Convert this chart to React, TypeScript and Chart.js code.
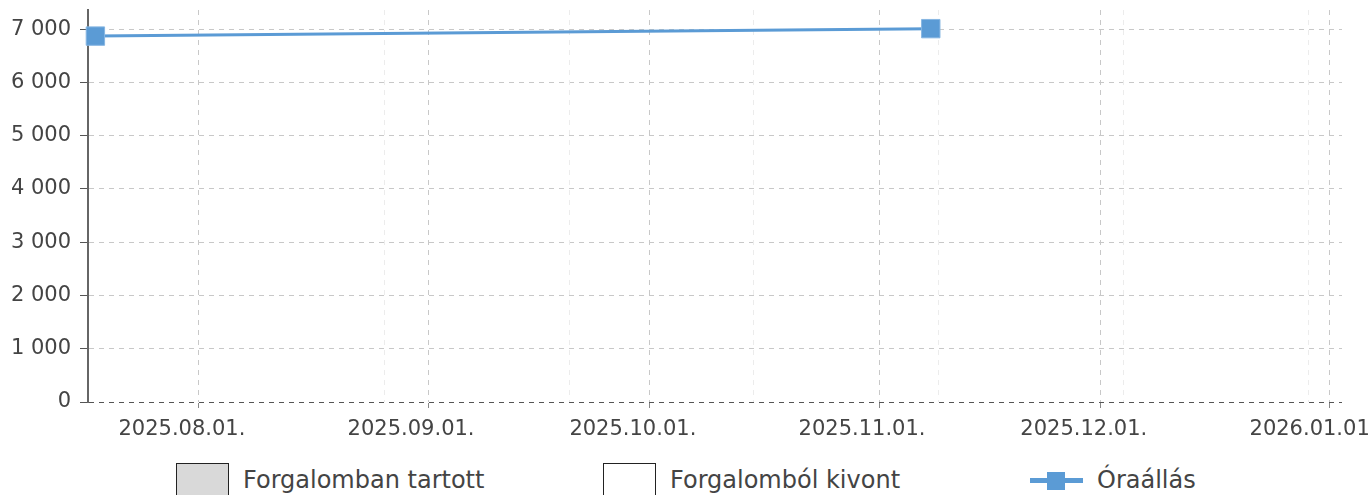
import React, { useEffect, useRef } from "react";
import Chart from "chart.js/auto";

// ---- data ----
const pointDates: string[] = ["2025-07-18", "2025-11-08"];
const meterValues: number[] = [6870, 7010];
const majorTickDates: string[] = ["2025-08-01", "2025-09-01", "2025-10-01", "2025-11-01", "2025-12-01", "2026-01-01"];
const minorTickDates: string[] = ["2025-08-26", "2025-09-20", "2025-10-15", "2025-11-09", "2025-12-04", "2025-12-29"];
const xMinDate = "2025-07-17T00:00:00Z";
const xMaxDate = "2026-01-02T15:00:00Z";
const yMax = 7360;
const legendLabels: string[] = ["Forgalomban tartott", "Forgalomból kivont", "Óraállás"];

const LINE_COLOR = "#5b9bd5";
const TEXT_COLOR = "#444444";
const FONT = "'DejaVu Sans', sans-serif";

const ts = (d: string) => new Date(d.length <= 10 ? d + "T00:00:00Z" : d).getTime();
const pad2 = (n: number) => (n < 10 ? "0" + n : "" + n);
const fmtDate = (v: number) => {
  const d = new Date(v);
  return `${d.getUTCFullYear()}.${pad2(d.getUTCMonth() + 1)}.${pad2(d.getUTCDate())}.`;
};
const fmtNum = (v: number) => String(Math.round(v)).replace(/\B(?=(\d{3})+(?!\d))/g, " ");

const bgPlugin = {
  id: "bgFill",
  beforeDraw(chart: any) {
    const { ctx, width, height } = chart;
    ctx.save();
    ctx.fillStyle = "#ffffff";
    ctx.fillRect(0, 0, width, height);
    ctx.restore();
  },
  afterDraw(chart: any) {
    const { ctx, width, chartArea } = chart;
    ctx.save();
    ctx.fillStyle = "#ffffff";
    ctx.fillRect(0, 0, width, Math.max(0, chartArea.top - 4));
    ctx.restore();
  },
};

const minorGridPlugin = {
  id: "minorGrid",
  beforeDatasetsDraw(chart: any) {
    const { ctx, chartArea, scales } = chart;
    const x = scales.x;
    ctx.save();
    ctx.strokeStyle = "#ececec";
    ctx.lineWidth = 1;
    ctx.setLineDash([5, 5]);
    for (const d of minorTickDates) {
      const px = Math.round(x.getPixelForValue(ts(d))) + 0.5;
      ctx.beginPath();
      ctx.moveTo(px, chartArea.top);
      ctx.lineTo(px, chartArea.bottom);
      ctx.stroke();
    }
    ctx.restore();
  },
};

export default function App() {
  const ref = useRef<HTMLCanvasElement | null>(null);

  useEffect(() => {
    if (!ref.current) return;
    const xmin = ts(xMinDate);
    const xmax = ts(xMaxDate);
    const chart = new Chart(ref.current, {
      type: "line",
      data: {
        datasets: [
          {
            label: legendLabels[2],
            data: pointDates.map((d, i) => ({ x: ts(d), y: meterValues[i] })),
            borderColor: LINE_COLOR,
            backgroundColor: LINE_COLOR,
            borderWidth: 3,
            pointStyle: "rect",
            pointRadius: 13,
            pointBackgroundColor: LINE_COLOR,
            pointBorderColor: "#86b6e2",
            pointBorderWidth: 1,
            tension: 0,
            clip: false as any,
          },
        ],
      },
      plugins: [bgPlugin, minorGridPlugin],
      options: {
        animation: false,
        responsive: false,
        layout: { autoPadding: false, padding: { top: 10, right: 28, left: 0, bottom: 0 } },
        plugins: { legend: { display: false }, tooltip: { enabled: false } },
        scales: {
          x: {
            type: "linear",
            position: "bottom",
            min: xmin,
            max: xmax,
            afterBuildTicks: (s: any) => {
              s.ticks = majorTickDates.map((d) => ({ value: ts(d) }));
            },
            afterFit: (s: any) => {
              s.height = 38;
              s.paddingLeft = 0;
              s.paddingRight = 0;
            },
            ticks: {
              autoSkip: false,
              maxRotation: 0,
              padding: 9,
              labelOffset: -17,
              color: TEXT_COLOR,
              font: { family: FONT, size: 21 },
              callback: (v: any) => fmtDate(Number(v)),
            },
            grid: {
              color: "#c8c8c8",
              lineWidth: 1,
              tickLength: 6,
              tickColor: "#888888",
              tickBorderDash: [],
            },
            border: { display: true, color: "#aaaaaa", width: 1, dash: [5, 5], z: -2 },
          },
          y: {
            type: "linear",
            min: 0,
            max: yMax,
            afterBuildTicks: (s: any) => {
              const t = [];
              for (let v = 0; v <= yMax; v += 1000) t.push({ value: v });
              s.ticks = t;
            },
            afterFit: (s: any) => {
              s.width = 88;
              s.paddingTop = 0;
              s.paddingBottom = 0;
            },
            ticks: {
              padding: 9,
              color: TEXT_COLOR,
              font: { family: FONT, size: 21 },
              callback: (v: any) => fmtNum(Number(v)),
            },
            grid: {
              color: (ctx: any) => (ctx.tick && ctx.tick.value === 0 ? "#555555" : "#c8c8c8"),
              lineWidth: 1,
              tickLength: 8,
              tickColor: "#555555",
              tickBorderDash: [],
            },
            border: { display: true, color: "#666666", width: 2, dash: [5, 5] },
          },
        },
      },
    } as any);
    return () => chart.destroy();
  }, []);

  const itemLeft = (i: number) => 176 + 427 * i;

  return (
    <div
      style={{
        position: "fixed",
        left: 0,
        top: 0,
        width: 1370,
        height: 495,
        overflow: "hidden",
        background: "#ffffff",
        fontFamily: FONT,
      }}
    >
      <canvas ref={ref} width={1370} height={440} style={{ display: "block", width: 1370, height: 440 }} />
      {legendLabels.map((lbl, i) => (
        <div
          key={lbl}
          style={{
            position: "absolute",
            left: itemLeft(i),
            top: 463,
            height: 34,
            display: "flex",
            alignItems: "center",
            whiteSpace: "nowrap",
          }}
        >
          {i < 2 ? (
            <div
              style={{
                width: 51,
                height: 32,
                border: "1px solid #222222",
                background: i === 0 ? "#d9d9d9" : "#ffffff",
              }}
            />
          ) : (
            <div style={{ position: "relative", width: 53, height: 34 }}>
              <div
                style={{
                  position: "absolute",
                  left: 0,
                  top: 15,
                  width: 53,
                  height: 5,
                  background: LINE_COLOR,
                }}
              />
              <div
                style={{
                  position: "absolute",
                  left: 17,
                  top: 9,
                  width: 18,
                  height: 18,
                  background: LINE_COLOR,
                }}
              />
            </div>
          )}
          <span style={{ marginLeft: 14, fontSize: 24, color: TEXT_COLOR }}>{lbl}</span>
        </div>
      ))}
    </div>
  );
}
